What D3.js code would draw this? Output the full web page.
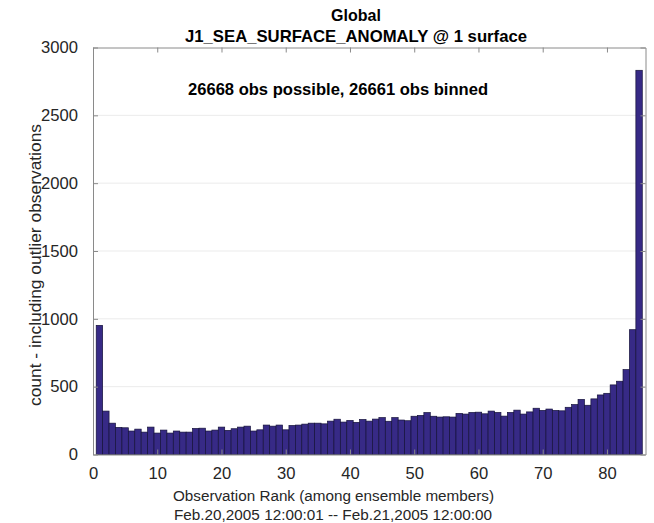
<!DOCTYPE html>
<html>
<head>
<meta charset="utf-8">
<script src="https://cdn.jsdelivr.net/npm/d3@7"></script>
<style>
  html, body { margin: 0; padding: 0; background: #fff; }
  svg { display: block; font-family: "Liberation Sans", Arial, Helvetica, sans-serif; }
</style>
</head>
<body>
<svg id="chart" width="654" height="523"></svg>
<script>
// ---- data ----
const ranks = d3.range(1, 86);
const counts = [
  952, 320, 231, 200, 197, 173, 187, 165, 202, 158,
  180, 158, 173, 165, 165, 192, 194, 173, 180, 202,
  178, 190, 202, 209, 173, 182, 217, 209, 217, 182,
  214, 217, 224, 231, 231, 226, 246, 260, 239, 251,
  237, 258, 246, 261, 272, 245, 272, 254, 249, 282,
  288, 309, 282, 276, 278, 276, 303, 298, 310, 312,
  300, 320, 310, 283, 310, 327, 298, 314, 341, 325,
  335, 325, 322, 348, 368, 406, 363, 410, 439, 451,
  513, 540, 626, 920, 2832
];
const xTicks = [0, 10, 20, 30, 40, 50, 60, 70, 80];
const yTicks = [0, 500, 1000, 1500, 2000, 2500, 3000];
const titleLines = ["Global", "J1_SEA_SURFACE_ANOMALY @ 1 surface"];
const annotation = "26668 obs possible, 26661 obs binned";
const xLabelLines = ["Observation Rank (among ensemble members)", "Feb.20,2005 12:00:01 -- Feb.21,2005 12:00:00"];
const yLabel = "count - including outlier observations";

// ---- layout ----
const L = 93, R = 645.5, T = 47.5, B = 454.5;
const svg = d3.select("#chart");
const x = d3.scaleLinear().domain([0, 86]).range([L, R]);
const y = d3.scaleLinear().domain([0, 3000]).range([B, T]);
const axisColor = "#8a8a8a";
const textColor = "#262626";

// grid
svg.append("g").selectAll("line").data(yTicks.filter(d => d > 0 && d < 3000)).join("line")
  .attr("x1", L).attr("x2", R).attr("y1", d => y(d)).attr("y2", d => y(d))
  .attr("stroke", "#ebebeb").attr("stroke-width", 1);

// bars
svg.append("g").selectAll("rect").data(ranks).join("rect")
  .attr("x", d => x(d - 0.5))
  .attr("width", d => x(d + 0.5) - x(d - 0.5))
  .attr("y", (d, i) => y(counts[i]))
  .attr("height", (d, i) => B - y(counts[i]))
  .attr("fill", "#372a86")
  .attr("stroke", "#15123a")
  .attr("stroke-width", 0.7);

// axes
const fmt = d3.format("d");
const gx = svg.append("g").attr("transform", `translate(0,${B})`)
  .call(d3.axisBottom(x).tickValues(xTicks).tickFormat(fmt).tickSizeInner(-5).tickSizeOuter(0).tickPadding(13));
const gxTop = svg.append("g").attr("transform", `translate(0,${T})`)
  .call(d3.axisTop(x).tickValues(xTicks).tickFormat("").tickSizeInner(-5).tickSizeOuter(0));
const gy = svg.append("g").attr("transform", `translate(${L},0)`)
  .call(d3.axisLeft(y).tickValues(yTicks).tickFormat(fmt).tickSizeInner(-5).tickSizeOuter(0).tickPadding(15));
const gyR = svg.append("g").attr("transform", `translate(${R},0)`)
  .call(d3.axisRight(y).tickValues(yTicks).tickFormat("").tickSizeInner(-5).tickSizeOuter(0));
[gx, gxTop, gy, gyR].forEach(g => {
  g.select(".domain").attr("stroke", axisColor);
  g.selectAll(".tick line").attr("stroke", axisColor);
  g.selectAll(".tick text").attr("fill", textColor).attr("font-size", 16.6)
    .attr("font-family", "Liberation Sans, Arial, sans-serif");
});

// titles
svg.append("text").attr("x", 356).attr("y", 21)
  .attr("text-anchor", "middle").attr("font-weight", "bold").attr("font-size", 16)
  .attr("fill", "#000").text(titleLines[0]);
svg.append("text").attr("x", 356).attr("y", 42)
  .attr("text-anchor", "middle").attr("font-weight", "bold").attr("font-size", 16.6)
  .attr("textLength", 342).attr("lengthAdjust", "spacingAndGlyphs")
  .attr("fill", "#000").text(titleLines[1]);

svg.append("text").attr("x", 338).attr("y", 95)
  .attr("text-anchor", "middle").attr("font-weight", "bold").attr("font-size", 16.5)
  .attr("textLength", 300).attr("lengthAdjust", "spacingAndGlyphs")
  .attr("fill", "#000").text(annotation);

svg.append("text").attr("x", 333.5).attr("y", 501)
  .attr("text-anchor", "middle").attr("font-size", 15.5)
  .attr("textLength", 321).attr("lengthAdjust", "spacingAndGlyphs")
  .attr("fill", textColor).text(xLabelLines[0]);
svg.append("text").attr("x", 333).attr("y", 519.5)
  .attr("text-anchor", "middle").attr("font-size", 15.5)
  .attr("textLength", 318).attr("lengthAdjust", "spacingAndGlyphs")
  .attr("fill", textColor).text(xLabelLines[1]);

svg.append("text").attr("transform", `translate(41,265) rotate(-90)`)
  .attr("text-anchor", "middle").attr("font-size", 16.5)
  .attr("textLength", 282).attr("lengthAdjust", "spacingAndGlyphs")
  .attr("fill", textColor).text(yLabel);
</script>
</body>
</html>
